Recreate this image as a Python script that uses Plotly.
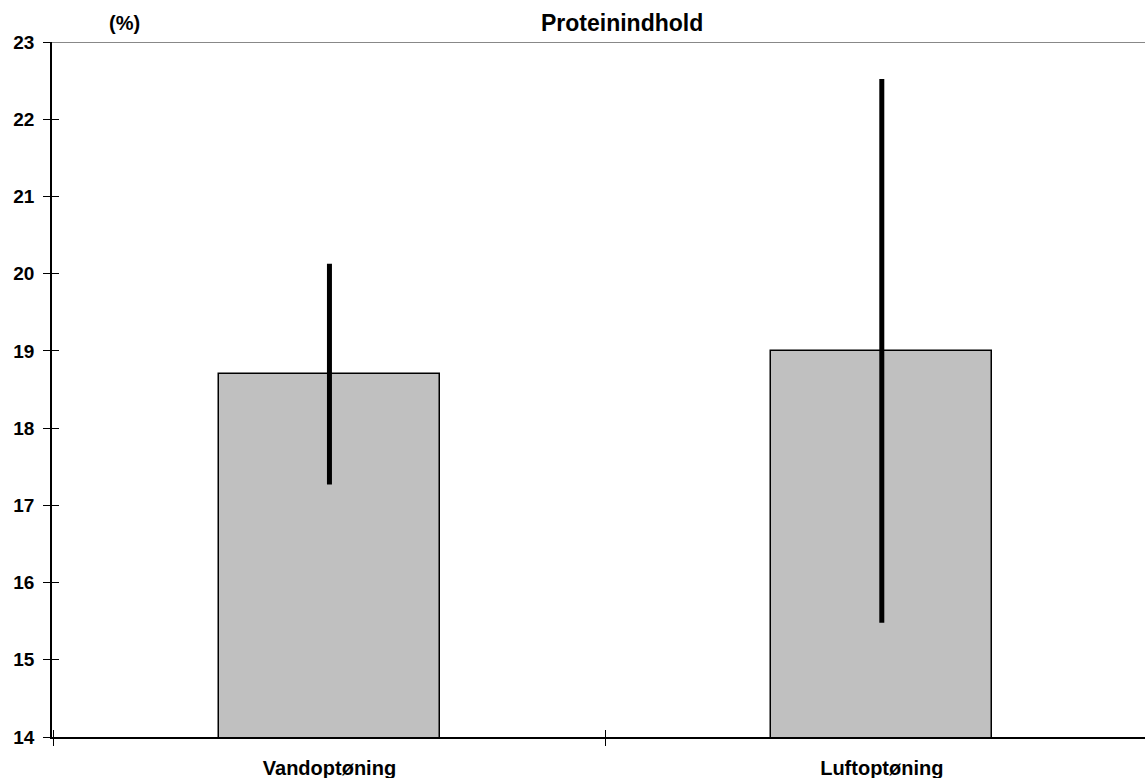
import plotly.graph_objects as go

categories = ["Vandoptøning", "Luftoptøning"]
values = [18.7, 19.0]
errors = [1.43, 3.52]
y_ticks = [14, 15, 16, 17, 18, 19, 20, 21, 22, 23]

FONT = "Liberation Sans, Arial, sans-serif"

fig = go.Figure()
fig.add_trace(go.Bar(
    x=categories, y=values, width=0.4,
    marker=dict(color="#c0c0c0", line=dict(color="black", width=1.5)),
    error_y=dict(type="data", array=errors, visible=True, color="black",
                 thickness=5, width=0),
    hoverinfo="skip",
))
# invisible trace on overlay axes for the inside half of the crossing ticks
fig.add_trace(go.Scatter(x=categories, y=values, xaxis="x2", yaxis="y2",
                         mode="markers", marker=dict(opacity=0),
                         hoverinfo="skip", showlegend=False))

xr = [-0.5023, 1.4765]
yr = [14, 23]

fig.update_layout(
    width=1145, height=778,
    margin=dict(l=52, r=0, t=42, b=41, pad=0),
    plot_bgcolor="white", paper_bgcolor="white",
    showlegend=False,
    bargap=0,
    font=dict(family=FONT, color="black"),
    xaxis=dict(range=xr, type="category", tickson="boundaries",
               ticks="outside", ticklen=7, tickwidth=1, tickcolor="black",
               showline=True, linecolor="black", linewidth=1.5,
               showgrid=False, zeroline=False, automargin=False,
               tickfont=dict(family=FONT, size=20, weight="bold"),
               ticklabelstandoff=12),
    yaxis=dict(range=yr, tickvals=y_ticks, ticks="outside", ticklen=7,
               tickwidth=1, tickcolor="black",
               showline=True, linecolor="black", linewidth=1.5,
               showgrid=False, zeroline=False, automargin=False,
               tickfont=dict(family=FONT, size=19, weight="bold"),
               ticklabelstandoff=5),
    xaxis2=dict(range=xr, type="category", overlaying="x", anchor="y2",
                tickson="boundaries", ticks="inside", ticklen=7,
                tickwidth=1, tickcolor="black", showticklabels=False,
                showline=False, showgrid=False, zeroline=False,
                automargin=False),
    yaxis2=dict(range=yr, tickvals=y_ticks, overlaying="y", anchor="x2",
                ticks="inside", ticklen=7, tickwidth=1, tickcolor="black",
                showticklabels=False, showline=False, showgrid=False,
                zeroline=False, automargin=False),
    shapes=[dict(type="line", xref="paper", yref="y", x0=0, x1=1,
                 y0=23, y1=23, line=dict(color="#888888", width=2))],
    annotations=[
        dict(text="Proteinindhold", xref="paper", yref="paper",
             x=(622 - 52) / 1093, y=1, yshift=19, showarrow=False,
             xanchor="center", yanchor="middle",
             font=dict(family=FONT, size=23, weight="bold")),
        dict(text="(%)", xref="paper", yref="paper",
             x=(124 - 52) / 1093, y=1, yshift=19, showarrow=False,
             xanchor="center", yanchor="middle",
             font=dict(family=FONT, size=20, weight="bold")),
    ],
)

fig.write_html("out.html",
               config={"displayModeBar": False},
               post_script="document.body.style.margin='0';"
                           "document.body.style.overflow='hidden';")
